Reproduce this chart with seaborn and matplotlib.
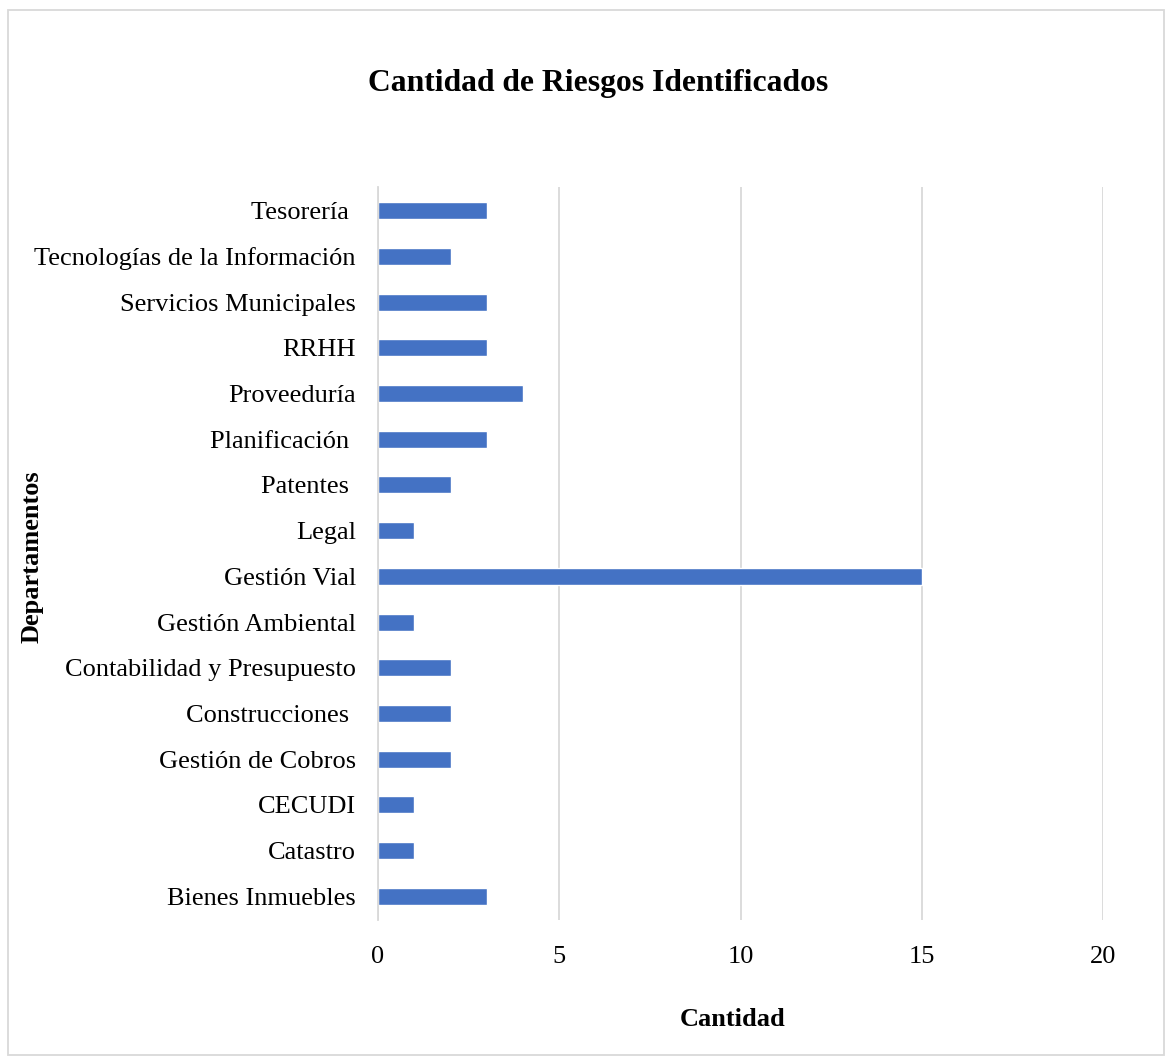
import matplotlib
matplotlib.use("Agg")
import matplotlib.pyplot as plt
import seaborn as sns
import pandas as pd
from matplotlib.patches import Rectangle

departamentos = ["Tesorería ", "Tecnologías de la Información", "Servicios Municipales", "RRHH",
                 "Proveeduría", "Planificación ", "Patentes ", "Legal", "Gestión Vial",
                 "Gestión Ambiental", "Contabilidad y Presupuesto", "Construcciones ",
                 "Gestión de Cobros", "CECUDI", "Catastro", "Bienes Inmuebles"]
cantidad = [3, 2, 3, 3, 4, 3, 2, 1, 15, 1, 2, 2, 2, 1, 1, 3]
x_ticks = [0, 5, 10, 15, 20]

df = pd.DataFrame({"Departamentos": departamentos, "Cantidad": cantidad})

sns.set_theme(style="white")
plt.rcParams['font.family'] = ['Liberation Serif', 'DejaVu Serif']
plt.rcParams['text.color'] = 'black'

fig = plt.figure(figsize=(11.72, 10.63), dpi=100)
ax = fig.add_axes([378/1172, 1 - 920/1063, (1103-378)/1172, (920-187)/1063])

sns.barplot(data=df, x="Cantidad", y="Departamentos", color="#4472C4", saturation=1,
            width=0.37, ax=ax, orient="h")

ax.set_xlim(0, 20)
ax.set_ylim(len(departamentos) - 0.5 + 0.02, -0.5 - 0.02)
ax.set_xticks(x_ticks)
ax.set_xticklabels([str(t) for t in x_ticks])
ax.xaxis.grid(True, color="#D9D9D9", linewidth=1.3)
ax.set_axisbelow(True)
for s in ["top", "right", "bottom"]:
    ax.spines[s].set_visible(False)
ax.spines["left"].set_color("#D9D9D9")
ax.spines["left"].set_linewidth(1.3)
ax.tick_params(axis="x", length=0, pad=18.5, labelsize=19, colors="black")
ax.tick_params(axis="y", length=0, pad=16, labelsize=19, colors="black")
ax.set_xlabel("")
ax.set_ylabel("")

fig.text(598/1172, 1 - 84/1063, "Cantidad de Riesgos Identificados", ha="center", va="center",
         fontsize=22.8, fontweight="bold", color="black")
fig.text(733/1172, 1 - 1020/1063, "Cantidad", ha="center", va="center",
         fontsize=19, fontweight="bold", color="black")
fig.text(32/1172, 1 - 557/1063, "Departamentos", ha="center", va="center",
         fontsize=19, fontweight="bold", rotation=90, color="black")

fig.patches.append(Rectangle((8/1172, 1 - 1055/1063), (1164-8)/1172, (1055-10)/1063,
                             transform=fig.transFigure, fill=False, edgecolor="#D9D9D9",
                             linewidth=1.3))

fig.savefig("out.png", dpi=100, facecolor="white")
